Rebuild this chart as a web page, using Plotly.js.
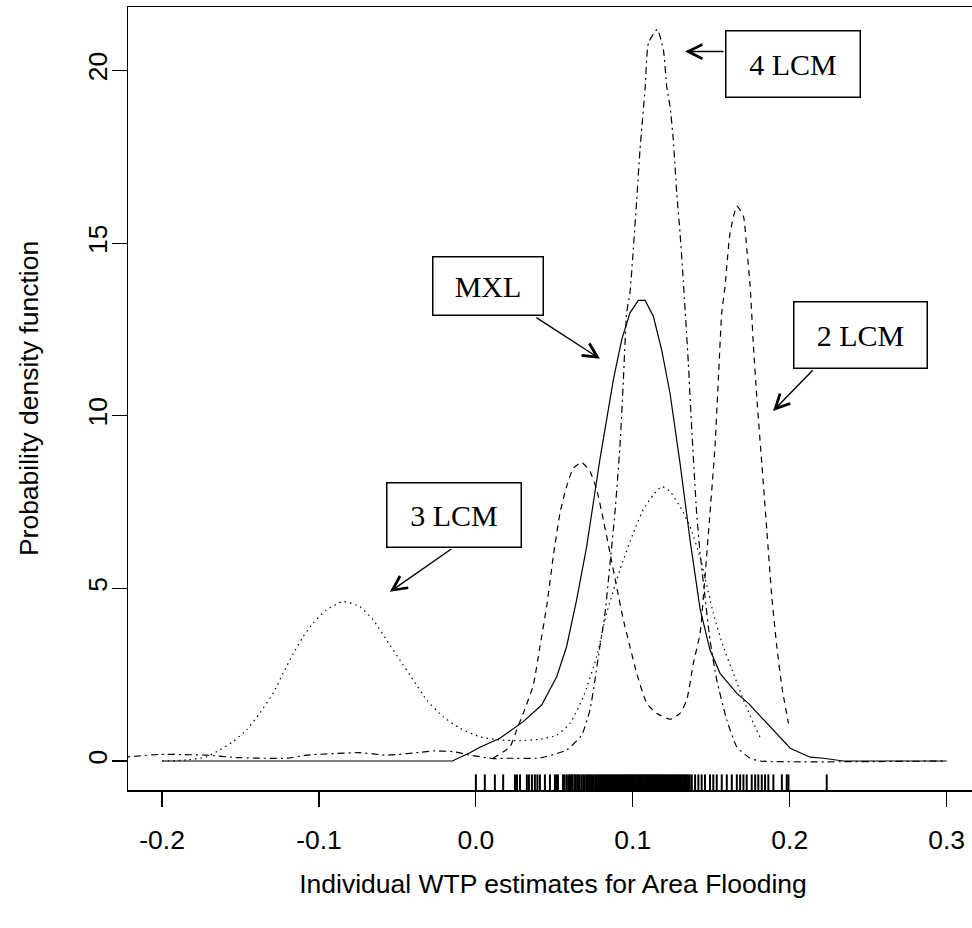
<!DOCTYPE html>
<html><head><meta charset="utf-8">
<script src="https://cdn.plot.ly/plotly-3.0.1.min.js"></script>
<style>html,body{margin:0;padding:0;overflow:hidden;background:#fff;width:972px;height:928px}#chart{width:980px;height:928px}</style>
</head><body><div id="chart"></div><script>
// ---- data ----
const mxlX = [-0.2, -0.015, -0.0038, 0.0026, 0.0153, 0.0302, 0.0419, 0.0472, 0.0515, 0.0578, 0.0642, 0.0706, 0.079, 0.0876, 0.0929, 0.0982, 0.1035, 0.1078, 0.1131, 0.1184, 0.1237, 0.1301, 0.1365, 0.1429, 0.1492, 0.1556, 0.1663, 0.1737, 0.1854, 0.2003, 0.213, 0.2215, 0.2342, 0.3];
const mxlY = [0, 0, 0.24, 0.40, 0.66, 1.14, 1.62, 2.06, 2.44, 3.31, 4.67, 6.21, 8.72, 11.04, 12.2, 12.98, 13.34, 13.34, 12.88, 11.91, 10.66, 8.63, 6.4, 4.4, 3.22, 2.54, 1.96, 1.67, 1.09, 0.37, 0.11, 0.08, 0.0, 0];

const lcm4X = [-0.2217, -0.2015, -0.1717, -0.1526, -0.1207, -0.108, -0.074, -0.057, -0.0357, -0.0272, -0.0145, -0.0038, 0.011, 0.0196, 0.041, 0.0578, 0.0674, 0.0727, 0.0759, 0.079, 0.0823, 0.0855, 0.0886, 0.0918, 0.094, 0.0961, 0.0982, 0.1003, 0.1025, 0.1046, 0.1078, 0.11, 0.1156, 0.1195, 0.1216, 0.1237, 0.1258, 0.128, 0.1301, 0.1322, 0.1354, 0.1376, 0.1407, 0.1429, 0.146, 0.1492, 0.1535, 0.1599, 0.1663, 0.1748, 0.1811, 0.3];
const lcm4Y = [0.12, 0.19, 0.17, 0.10, 0.08, 0.17, 0.24, 0.17, 0.25, 0.29, 0.27, 0.17, 0.07, 0.08, 0.09, 0.32, 0.75, 1.48, 2.35, 3.31, 4.28, 5.73, 7.18, 9.11, 11.04, 12.98, 13.56, 14.81, 16.26, 17.71, 19.45, 20.8, 21.19, 20.6, 19.55, 18.97, 18.0, 16.45, 15.3, 13.9, 11.53, 9.59, 7.18, 6.02, 4.76, 3.51, 2.35, 1.19, 0.41, 0.08, 0.0, 0.0];

const lcm2X = [0.011, 0.0217, 0.026, 0.0302, 0.0366, 0.0408, 0.0451, 0.0493, 0.0536, 0.0578, 0.0621, 0.0674, 0.0727, 0.077, 0.0812, 0.0855, 0.0897, 0.094, 0.0982, 0.1025, 0.1089, 0.1152, 0.1237, 0.1301, 0.1344, 0.1386, 0.1429, 0.145, 0.1492, 0.1524, 0.1545, 0.1567, 0.1588, 0.1599, 0.162, 0.1663, 0.1705, 0.1727, 0.1748, 0.1769, 0.179, 0.1822, 0.1854, 0.1886, 0.1918, 0.195, 0.1992];
const lcm2Y = [0.08, 0.41, 0.9, 1.38, 2.2, 3.31, 4.47, 5.92, 7.18, 7.95, 8.48, 8.65, 8.39, 7.86, 6.99, 6.02, 5.05, 4.09, 3.31, 2.54, 1.67, 1.38, 1.21, 1.38, 1.77, 2.83, 3.7, 4.76, 7.18, 9.11, 11.04, 12.98, 13.75, 14.33, 15.3, 16.07, 15.78, 14.81, 13.75, 12.01, 10.56, 8.63, 6.7, 4.76, 3.31, 2.15, 1.09];

const lcm3X = [-0.2, -0.1845, -0.1717, -0.1633, -0.1548, -0.1462, -0.1378, -0.1293, -0.1229, -0.1165, -0.1101, -0.1038, -0.0952, -0.0846, -0.074, -0.0655, -0.057, -0.0485, -0.04, -0.0314, -0.0208, -0.0102, 0.0026, 0.0153, 0.0281, 0.0408, 0.0515, 0.06, 0.0685, 0.077, 0.0833, 0.0918, 0.1003, 0.1067, 0.1131, 0.1184, 0.1237, 0.1301, 0.1365, 0.1429, 0.1513, 0.1577, 0.1641, 0.1705, 0.1769, 0.1811];
const lcm3Y = [0.0, 0.03, 0.12, 0.32, 0.56, 0.9, 1.38, 1.96, 2.54, 3.1, 3.6, 3.99, 4.38, 4.62, 4.47, 4.09, 3.51, 2.93, 2.35, 1.77, 1.28, 0.95, 0.7, 0.61, 0.59, 0.63, 0.75, 1.09, 1.86, 3.02, 4.28, 5.54, 6.6, 7.28, 7.71, 7.95, 7.81, 7.37, 6.79, 5.9, 4.28, 3.31, 2.54, 1.77, 1.09, 0.69];

const rugX = [0.0000, 0.0057, 0.0121, 0.0174, 0.0249, 0.0262, 0.0281, 0.0325, 0.0338, 0.0357, 0.0376, 0.0392, 0.0408, 0.0440, 0.0472, 0.0504, 0.0515, 0.0523, 0.0555, 0.0566, 0.0580, 0.0592, 0.0600, 0.0612,
  0.0615, 0.0628, 0.0633, 0.0645, 0.0652, 0.0661, 0.0673, 0.0684, 0.0692, 0.0703, 0.0711, 0.0718, 0.0726, 0.0734, 0.0745, 0.0752, 0.0763, 0.0771, 0.0779, 0.0788, 0.0795, 0.0804, 0.0812, 0.0819, 0.0828, 0.0836, 0.0843, 0.0851, 0.0858, 0.0866, 0.0874, 0.0881, 0.0889, 0.0896, 0.0903, 0.0911, 0.0918, 0.0926, 0.0933, 0.0941, 0.0948, 0.0955, 0.0962, 0.0970, 0.0977, 0.0984, 0.0991, 0.0999,
  0.1006, 0.1013, 0.1021, 0.1028, 0.1035, 0.1043, 0.1050, 0.1057, 0.1064, 0.1072, 0.1079, 0.1086, 0.1093, 0.1101, 0.1108, 0.1115, 0.1122, 0.1130, 0.1137, 0.1144, 0.1152, 0.1159, 0.1166, 0.1174, 0.1181, 0.1188, 0.1196, 0.1203, 0.1211, 0.1218, 0.1226, 0.1233, 0.1241, 0.1248, 0.1256, 0.1264, 0.1271, 0.1279, 0.1287, 0.1295, 0.1302, 0.1311, 0.1319, 0.1327, 0.1336, 0.1345, 0.1354, 0.1363,
  0.1376, 0.1397, 0.1418, 0.1439, 0.1460, 0.1492, 0.1513, 0.1535, 0.1567, 0.1599, 0.1631, 0.1663, 0.1684, 0.1705, 0.1726, 0.1758, 0.1780, 0.1800, 0.1822, 0.1843, 0.1864, 0.1896, 0.1950, 0.1981, 0.1992, 0.2236];

const xTickVals = [-0.2, -0.1, 0.0, 0.1, 0.2, 0.3];
const xTickText = ['-0.2', '-0.1', '0.0', '0.1', '0.2', '0.3'];
const yTickVals = [0, 5, 10, 15, 20];
const yTickText = ['0', '5', '10', '15', '20'];

const labels = ['4 LCM', 'MXL', '3 LCM', '2 LCM'];
const labelX = [0.2022, 0.0077, -0.014, 0.2452];
const labelY = [20.2, 13.77, 7.13, 12.35];
const tipX = [0.1333, 0.0791, -0.0548, 0.1894];
const tipY = [20.55, 11.65, 4.9, 10.14];
const tailX = [0.1588, 0.0376, -0.0147, 0.2156];
const tailY = [20.55, 12.87, 6.17, 11.36];

// ---- styles ----
const boxW = [133, 109, 133, 132];
const boxH = [65, 57, 63, 65];
const rugY = -0.652;

const lineW = 1.2;
const traces = [
  {x: mxlX, y: mxlY, mode: 'lines', line: {color: 'black', width: lineW, shape: 'linear'}},
  {x: lcm4X, y: lcm4Y, mode: 'lines', line: {color: 'black', width: lineW, dash: '2px,4px,7px,4px', shape: 'spline', smoothing: 0.5}},
  {x: lcm2X, y: lcm2Y, mode: 'lines', line: {color: 'black', width: lineW, dash: '6px,5px', shape: 'spline', smoothing: 0.5}},
  {x: lcm3X, y: lcm3Y, mode: 'lines', line: {color: 'black', width: lineW, dash: '1.5px,4px', shape: 'spline', smoothing: 0.5}},
  {x: rugX, y: rugX.map(() => rugY), mode: 'markers', marker: {symbol: 'line-ns-open', size: 13, color: 'black', line: {color: 'black', width: 2}}}
];

const annotations = [];
labels.forEach((t, i) => {
  annotations.push({x: labelX[i], y: labelY[i], xref: 'x', yref: 'y', text: t, showarrow: false,
    font: {family: 'Liberation Serif, Times New Roman, serif', size: 30, color: 'black'},
    bordercolor: 'black', borderwidth: 1.5, borderpad: 0, width: boxW[i], height: boxH[i],
    align: 'center', valign: 'middle'});
  annotations.push({x: tipX[i], y: tipY[i], xref: 'x', yref: 'y', ax: tailX[i], ay: tailY[i], axref: 'x', ayref: 'y',
    text: '', showarrow: true, arrowhead: 5, arrowsize: 2, arrowwidth: 1.4, arrowcolor: 'black', standoff: 0});
});

const axisFont = {family: 'Liberation Sans, Arial, sans-serif', size: 26.5, color: 'black'};
const layout = {
  width: 980, height: 928,
  margin: {l: 128, r: 2, t: 7, b: 138},
  paper_bgcolor: 'white', plot_bgcolor: 'white',
  showlegend: false,
  xaxis: {range: [-0.2217, 0.32], tickvals: xTickVals, ticktext: xTickText, ticks: 'outside', ticklen: 15, tickwidth: 1.2,
    tickcolor: 'black', showline: true, linecolor: 'black', linewidth: 1.5, mirror: true, showgrid: false, zeroline: false,
    tickfont: axisFont, ticklabelstandoff: 11, automargin: false,
    title: {text: 'Individual WTP estimates for Area Flooding', font: axisFont, standoff: 20}},
  yaxis: {range: [-0.84, 21.84], tickvals: yTickVals, ticktext: yTickText, ticks: 'outside', ticklen: 15, tickwidth: 1.2,
    tickcolor: 'black', showline: true, linecolor: 'black', linewidth: 1.5, mirror: true, showgrid: false, zeroline: false,
    tickfont: axisFont, tickangle: -90, ticklabelstandoff: -6, automargin: false,
    title: {text: 'Probability density function', font: axisFont, standoff: 36}},
  annotations: annotations
};
Plotly.newPlot('chart', traces, layout, {displayModeBar: false, staticPlot: true});
</script></body></html>
